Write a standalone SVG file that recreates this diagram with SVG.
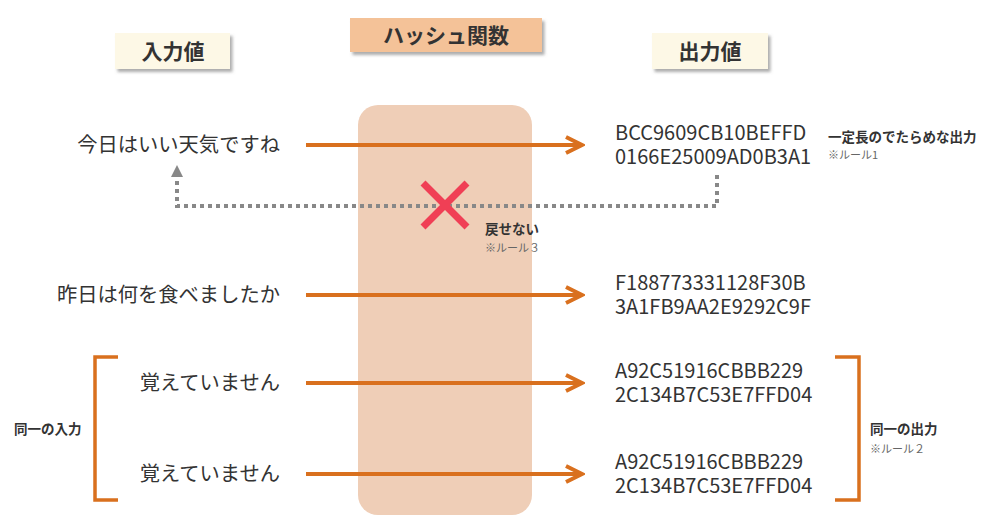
<svg xmlns="http://www.w3.org/2000/svg" width="1000" height="531" viewBox="0 0 1000 531">
<style>
text{font-family:"Noto Sans CJK JP","Noto Sans",sans-serif;fill:#333}
.lbl{font-size:21px;font-weight:700;text-anchor:middle}
.in{font-size:20.3px;text-anchor:end}
.hash{font-size:20px}
.note{font-size:13.5px;font-weight:700}
.rule{font-size:11px;fill:#666}
.arrow{stroke:#d9701e;stroke-width:4;fill:none}
.bracket{stroke:#d9701e;stroke-width:3.5;fill:none}
.dot{stroke:#888;stroke-width:4;stroke-dasharray:4 4;fill:none}
</style>
<defs>
<filter id="sh" x="-20%" y="-30%" width="150%" height="170%">
<feDropShadow dx="2.5" dy="3" stdDeviation="1.5" flood-color="#777" flood-opacity="0.6"/>
</filter>
<marker id="chev" viewBox="0 0 20 20" refX="17" refY="10" markerWidth="20" markerHeight="20" markerUnits="userSpaceOnUse" orient="auto">
<path d="M1,2 L17,10 L1,18" fill="none" stroke="#d9701e" stroke-width="4" stroke-linecap="butt" stroke-linejoin="miter"/>
</marker>
</defs>
<rect id="hash-body" x="358" y="105" width="174" height="410" rx="20" fill="#efceb7"/>
<g id="label-input"><rect x="115" y="33" width="115" height="36" fill="#fdf8e6" filter="url(#sh)"/><text class="lbl" x="173" y="59">入力値</text></g>
<g id="label-hash"><rect x="350" y="18" width="192" height="34" fill="#f4c298" filter="url(#sh)"/><text class="lbl" x="446" y="43">ハッシュ関数</text></g>
<g id="label-output"><rect x="652" y="33" width="116" height="36" fill="#fdf8e6" filter="url(#sh)"/><text class="lbl" x="710" y="59">出力値</text></g>
<g id="connectors">
<line class="arrow" x1="306" y1="145" x2="582" y2="145" marker-end="url(#chev)"/>
<line class="arrow" x1="306" y1="295" x2="582" y2="295" marker-end="url(#chev)"/>
<line class="arrow" x1="306" y1="383" x2="582" y2="383" marker-end="url(#chev)"/>
<line class="arrow" x1="306" y1="474" x2="582" y2="474" marker-end="url(#chev)"/>
<polyline class="dot" points="717,175 717,206 177,206 177,178"/>
<polygon points="177,165 171,177 183,177" fill="#888"/>
<polyline class="bracket" points="118,357 95,357 95,500 118,500"/>
<polyline class="bracket" points="835,357 859,357 859,500 835,500"/>
</g>
<g id="cross"><path d="M423,183 L467,227 M467,183 L423,227" stroke="#f03f55" stroke-width="7" fill="none"/></g>
<g id="input-1"><text class="in" x="280" y="152">今日はいい天気ですね</text></g>
<g id="input-2"><text class="in" x="280" y="302">昨日は何を食べましたか</text></g>
<g id="input-3"><text class="in" x="280" y="390">覚えていません</text></g>
<g id="input-4"><text class="in" x="280" y="481">覚えていません</text></g>
<g id="output-1"><text class="hash" x="615" y="140">BCC9609CB10BEFFD<tspan x="615" dy="24">0166E25009AD0B3A1</tspan></text></g>
<g id="output-2"><text class="hash" x="615" y="290">F188773331128F30B<tspan x="615" dy="24">3A1FB9AA2E9292C9F</tspan></text></g>
<g id="output-3"><text class="hash" x="615" y="378">A92C51916CBBB229<tspan x="615" dy="24">2C134B7C53E7FFD04</tspan></text></g>
<g id="output-4"><text class="hash" x="615" y="469">A92C51916CBBB229<tspan x="615" dy="24">2C134B7C53E7FFD04</tspan></text></g>
<g id="note-fixed"><text class="note" x="828" y="142">一定長のでたらめな出力</text><text class="rule" x="828" y="159">※ルール1</text></g>
<g id="note-irreversible"><text class="note" x="485" y="234">戻せない</text><text class="rule" x="485" y="252">※ルール３</text></g>
<g id="note-same-in"><text class="note" x="14" y="434">同一の入力</text></g>
<g id="note-same-out"><text class="note" x="870" y="434">同一の出力</text><text class="rule" x="870" y="453">※ルール２</text></g>
</svg>
